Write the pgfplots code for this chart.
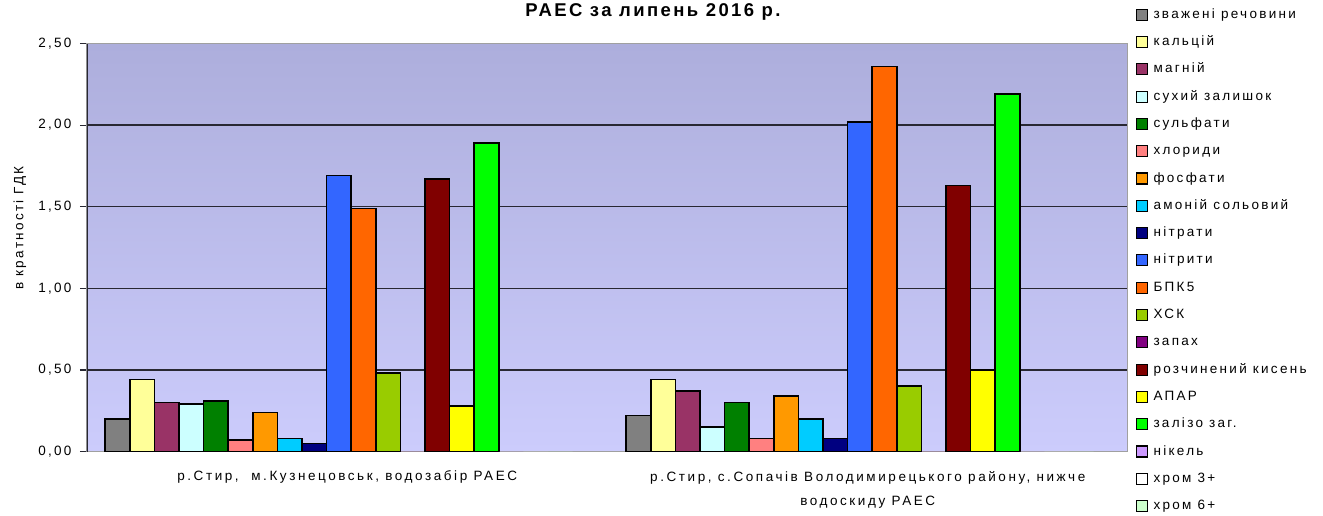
\documentclass[border=0pt]{standalone}
\usepackage{fontspec}
\setmainfont{Liberation Sans}
\newfontfamily\spf{Liberation Sans}[LetterSpace=17]
\newfontfamily\xspf{Liberation Sans}[LetterSpace=19]
\newfontfamily\tspf{Liberation Sans}[LetterSpace=13]
\usepackage{pgfplots}
\pgfplotsset{compat=1.18}
\definecolor{c1}{HTML}{808080}
\definecolor{c2}{HTML}{FFFF99}
\definecolor{c3}{HTML}{993366}
\definecolor{c4}{HTML}{CCFFFF}
\definecolor{c5}{HTML}{008000}
\definecolor{c6}{HTML}{FF8080}
\definecolor{c7}{HTML}{FF9900}
\definecolor{c8}{HTML}{00CCFF}
\definecolor{c9}{HTML}{000080}
\definecolor{c10}{HTML}{3366FF}
\definecolor{c11}{HTML}{FF6600}
\definecolor{c12}{HTML}{99CC00}
\definecolor{c13}{HTML}{800080}
\definecolor{c14}{HTML}{800000}
\definecolor{c15}{HTML}{FFFF00}
\definecolor{c16}{HTML}{00FF00}
\definecolor{c17}{HTML}{CC99FF}
\definecolor{c18}{HTML}{FFFFFF}
\definecolor{c19}{HTML}{CCFFCC}
\definecolor{bgtop}{RGB}{173,174,220}
\definecolor{bgbot}{RGB}{204,204,252}
\definecolor{frame}{RGB}{160,160,160}
\definecolor{gridc}{RGB}{40,40,50}
\begin{document}
\begin{tikzpicture}
\useasboundingbox (-87pt,-63.5pt) rectangle (1236pt,451.5pt);
\begin{axis}[
  scale only axis,
  width=1041pt, height=408pt,
  at={(0,0)}, anchor=south west,
  xmin=0, xmax=2, ymin=0, ymax=2.5,
  ybar=0pt, bar width=24.6pt,
  axis background/.style={top color=bgtop, bottom color=bgbot},
  axis line style={draw=frame, line width=1pt},
  ytick={0,0.5,1,1.5,2,2.5},
  ymajorgrids, grid style={draw=gridc, line width=1.3pt},
  ytick pos=left, xtick pos=bottom,
  tick align=outside, major tick length=7pt,
  y tick style={draw=gridc, line width=1.2pt},
  xtick={0.5,1.5},
  x tick style={draw=none},
  extra x ticks={0,1,2}, extra x tick labels={},
  extra x tick style={major tick length=5pt, tick style={draw=gridc, line width=1.2pt}, grid=none},
  xticklabels={{р.Стир,\ \ м.Кузнецовськ, водозабір РАЕС},{р.Стир, с.Сопачів Володимирецького району, нижче\\водоскиду РАЕС}},
  xticklabel style={font=\xspf\fontsize{13.5}{24}\selectfont, align=center, yshift=-9pt},
  yticklabel style={font=\spf\fontsize{13.5}{14}\selectfont, xshift=-5pt},
  /pgf/number format/.cd, use comma, fixed, fixed zerofill, precision=2, assume math mode=true,
  /pgfplots/.cd,
  legend cell align=left,
  legend image code/.code={\draw[#1, draw=black, line width=1.1pt] (0pt,-5.5pt) rectangle (11pt,5.5pt); \path (16pt,0pt);},
  legend style={draw=none, fill=none, at={(1.00768,1.0870)}, anchor=north west,
    font=\spf\fontsize{13.5}{14}\selectfont, inner sep=0pt, row sep=14.3pt,
    nodes={inner sep=0pt, text height=10pt, text depth=3pt}},
  bs/.style={draw=black, line width=1.6pt},
]
\addplot[bs, fill=c1] coordinates {(0.484,0.20) (1.485,0.22)};
\addplot[bs, fill=c2] coordinates {(0.484,0.44) (1.485,0.44)};
\addplot[bs, fill=c3] coordinates {(0.484,0.30) (1.485,0.37)};
\addplot[bs, fill=c4] coordinates {(0.484,0.29) (1.485,0.15)};
\addplot[bs, fill=c5] coordinates {(0.484,0.31) (1.485,0.30)};
\addplot[bs, fill=c6] coordinates {(0.484,0.07) (1.485,0.08)};
\addplot[bs, fill=c7] coordinates {(0.484,0.24) (1.485,0.34)};
\addplot[bs, fill=c8] coordinates {(0.484,0.08) (1.485,0.20)};
\addplot[bs, fill=c9] coordinates {(0.484,0.05) (1.485,0.08)};
\addplot[bs, fill=c10] coordinates {(0.484,1.69) (1.485,2.02)};
\addplot[bs, fill=c11] coordinates {(0.484,1.49) (1.485,2.36)};
\addplot[bs, fill=c12] coordinates {(0.484,0.48) (1.485,0.40)};
\addplot[fill=c13, draw=none] coordinates {(0.484,0) (1.485,0)};
\addplot[bs, fill=c14] coordinates {(0.484,1.67) (1.485,1.63)};
\addplot[bs, fill=c15] coordinates {(0.484,0.28) (1.485,0.50)};
\addplot[bs, fill=c16] coordinates {(0.484,1.89) (1.485,2.19)};
\addplot[fill=c17, draw=none] coordinates {(0.484,0) (1.485,0)};
\addplot[fill=c18, draw=none] coordinates {(0.484,0) (1.485,0)};
\addplot[fill=c19, draw=none] coordinates {(0.484,0) (1.485,0)};
\legend{зважені речовини,кальцій,магній,сухий залишок,сульфати,хлориди,фосфати,амоній сольовий,нітрати,нітрити,БПК5,ХСК,запах,розчинений кисень,АПАР,залізо заг.,нікель,хром 3+,хром 6+}
\draw[gridc, line width=1.3pt] (rel axis cs:0,0) -- (rel axis cs:0,1);
\end{axis}
\node[font=\tspf\bfseries\fontsize{18.5}{20}\selectfont] at (566pt,439.5pt) {РАЕС за липень 2016 р.};
\node[font=\spf\fontsize{13.5}{14}\selectfont, rotate=90] at (-67pt,223.5pt) {в кратності ГДК};
\end{tikzpicture}
\end{document}
